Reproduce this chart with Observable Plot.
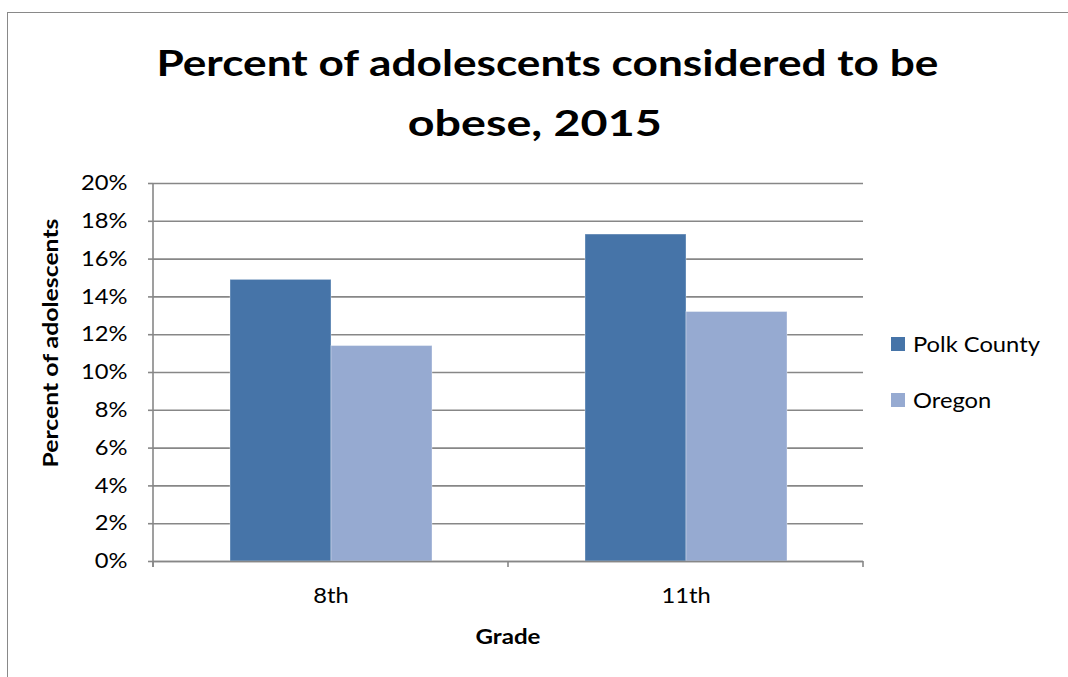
<!DOCTYPE html>
<html><head><meta charset="utf-8">
<script src="https://cdn.jsdelivr.net/npm/d3@7"></script>
<script src="https://cdn.jsdelivr.net/npm/@observablehq/plot@0.6"></script>
<style>
html,body{margin:0;padding:0;background:#fff;}
#wrap{position:relative;width:1068px;height:677px;overflow:hidden;font-family:Lato,"Open Sans",sans-serif;color:#000;}
#frame{position:absolute;left:7px;top:12px;width:1100px;height:700px;border-left:1.5px solid #898989;border-top:1.5px solid #898989;box-sizing:border-box;}
.tline{position:absolute;white-space:nowrap;font-weight:700;font-size:37px;line-height:44px;transform-origin:center;}
#chart{position:absolute;left:0;top:160px;}
.leg{position:absolute;left:891px;height:24px;display:flex;align-items:center;font-size:21px;line-height:24px;white-space:nowrap;}
.leg .lab{display:inline-block;transform-origin:left center;}
.sw{width:14px;height:14px;margin-right:8px;flex:none;}
.axlab{position:absolute;font-weight:700;font-size:21px;line-height:24px;white-space:nowrap;}
</style></head><body>
<div id="wrap">
 <div id="frame"></div>
 <div id="title"></div>
 <div id="chart"></div>
 <div id="legend"></div>
 <div id="xlab" class="axlab"></div>
 <div id="ylab" class="axlab"></div>
</div>
<script>
// ---- data ----
const titleLines = ["Percent of adolescents considered to be", "obese, 2015"];
const grades = ["8th", "11th"];
const seriesNames = ["Polk County", "Oregon"];
const polkValues = [0.149, 0.173];
const oregonValues = [0.114, 0.132];
const seriesColors = ["#4674a8", "#96aad1"];
const yTicks = [0, 0.02, 0.04, 0.06, 0.08, 0.10, 0.12, 0.14, 0.16, 0.18, 0.20];
const xTitle = "Grade";
const yTitle = "Percent of adolescents";

const data = grades.flatMap((g, i) => [
  {grade: g, series: seriesNames[0], value: polkValues[i]},
  {grade: g, series: seriesNames[1], value: oregonValues[i]}
]);

const TEXT_STRETCH = 1.13; // horizontal stretch of the reference's small text

// ---- title ----
const titleEl = document.getElementById("title");
const tcfg = [{cx: 547, baseline: 76, target: 782}, {cx: 535, baseline: 136.5, target: 254}];
titleLines.forEach((t, i) => {
  const span = document.createElement("span");
  span.className = "tline";
  span.textContent = t;
  titleEl.appendChild(span);
  const w = span.getBoundingClientRect().width;
  span.style.left = (tcfg[i].cx - w / 2) + "px";
  span.style.top = (tcfg[i].baseline - 36.3) + "px";
  span.style.transform = `scaleX(${tcfg[i].target / w})`;
});

// ---- chart ----
const W = 1068, H = 500;
const chart = Plot.plot({
  width: W, height: H,
  marginLeft: 153, marginRight: 205, marginTop: 23, marginBottom: 99,
  style: {fontFamily: "Lato, sans-serif", fontSize: "21px", color: "#000", background: "transparent", overflow: "visible"},
  fx: {domain: grades, padding: 0, label: null},
  x: {domain: seriesNames, paddingInner: 0, paddingOuter: 0.753, axis: null},
  y: {domain: [0, 0.2]},
  color: {domain: seriesNames, range: seriesColors},
  marks: [
    Plot.gridY(yTicks, {stroke: "#878787", strokeOpacity: 1, strokeWidth: 1.6}),
    Plot.barY(data, {fx: "grade", x: "series", y: "value", fill: "series", stroke: "#ffffff", strokeOpacity: 0.35, strokeWidth: 1}),
    Plot.ruleY([0], {stroke: "#878787", strokeWidth: 1.6}),
    Plot.axisY(yTicks, {tickFormat: d3.format(".0%"), tickSize: 5, tickPadding: 21, stroke: "#878787", strokeWidth: 1.6, label: null}),
    Plot.axisFx({anchor: "bottom", tickSize: 0, tickPadding: 27, label: null})
  ]
});
document.getElementById("chart").appendChild(chart);

// stretch the axis tick labels horizontally about their anchor point
d3.select(chart).selectAll("text").each(function() {
  const t = this.getAttribute("transform");
  if (t) this.setAttribute("transform", t + ` scale(${TEXT_STRETCH},1)`);
  else {
    const x = +this.getAttribute("x") || 0, y = +this.getAttribute("y") || 0;
    this.removeAttribute("x"); this.removeAttribute("y");
    this.setAttribute("transform", `translate(${x},${y}) scale(${TEXT_STRETCH},1)`);
  }
});

// axis line on the left and boundary ticks below the categories
const fxs = chart.scale("fx"), ys = chart.scale("y");
const g = d3.select(chart).append("g").attr("stroke", "#878787").attr("stroke-width", 1.6);
const x0 = fxs.apply(grades[0]);
g.append("line").attr("x1", x0).attr("x2", x0).attr("y1", ys.apply(0.2)).attr("y2", ys.apply(0) + 6);
const edges = grades.map(d => fxs.apply(d)).concat([fxs.apply(grades[grades.length - 1]) + fxs.bandwidth]);
edges.forEach(x => g.append("line").attr("x1", x).attr("x2", x).attr("y1", ys.apply(0)).attr("y2", ys.apply(0) + 6));

// ---- legend ----
const legendEl = document.getElementById("legend");
const legendCenters = [344, 399.5];
seriesNames.forEach((s, i) => {
  const item = document.createElement("div");
  item.className = "leg";
  item.style.top = (legendCenters[i] - 12) + "px";
  const sw = document.createElement("span");
  sw.className = "sw";
  sw.style.background = seriesColors[i];
  const lab = document.createElement("span");
  lab.className = "lab";
  lab.textContent = s;
  lab.style.transform = `scaleX(${TEXT_STRETCH})`;
  item.appendChild(sw); item.appendChild(lab);
  legendEl.appendChild(item);
});

// ---- axis titles ----
const xl = document.getElementById("xlab");
xl.textContent = xTitle;
xl.style.left = "507.5px"; xl.style.top = "635.5px";
const xw = xl.getBoundingClientRect().width;
xl.style.transform = `translate(-50%,-50%) scaleX(${65 / xw})`;
const yl = document.getElementById("ylab");
yl.textContent = yTitle;
yl.style.left = "50px"; yl.style.top = "342.5px";
const yw = yl.getBoundingClientRect().width;
yl.style.transform = `translate(-50%,-50%) rotate(-90deg) scaleX(${249 / yw})`;
</script>
</body></html>
